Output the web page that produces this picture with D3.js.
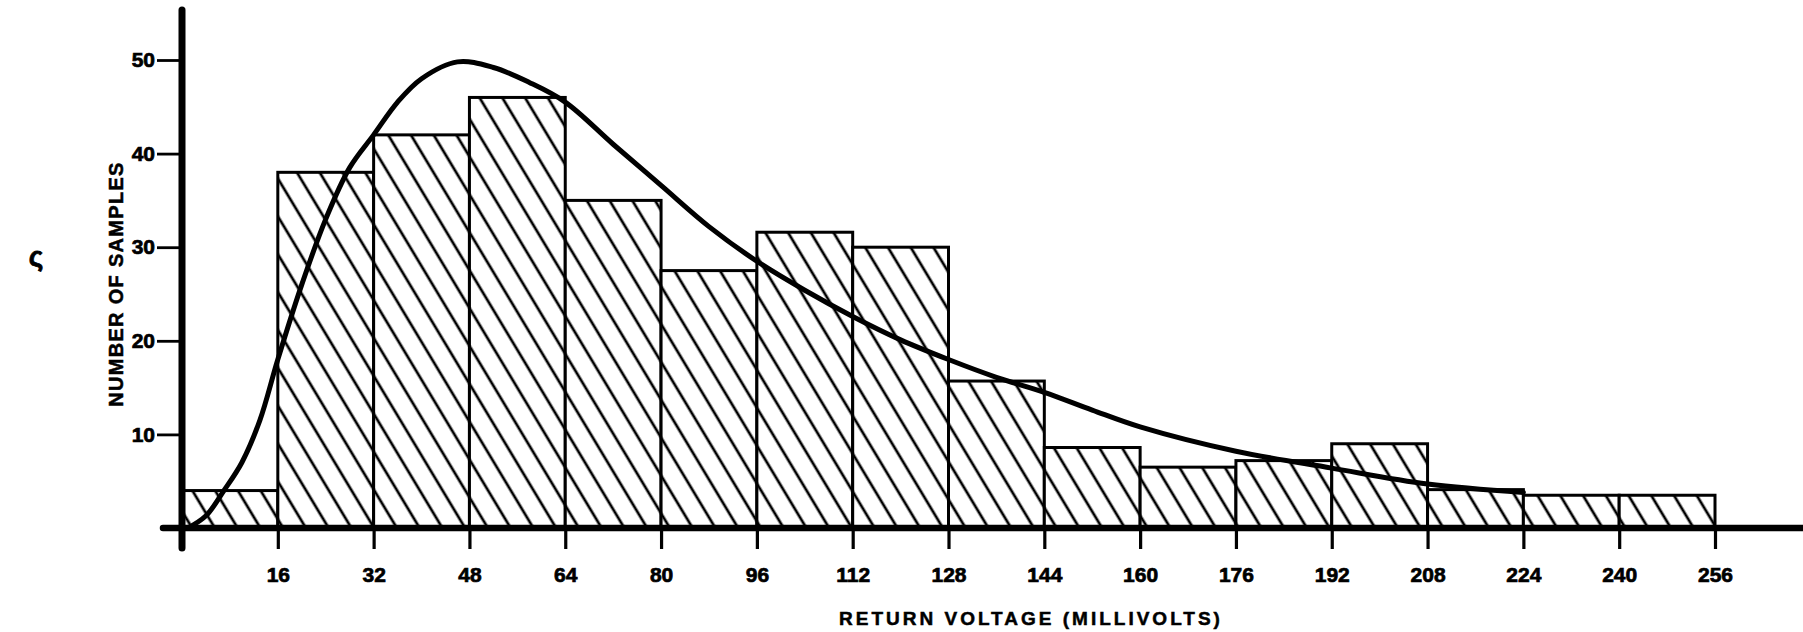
<!DOCTYPE html>
<html>
<head>
<meta charset="utf-8">
<script src="https://cdn.jsdelivr.net/npm/d3@7"></script>
<style>
  html, body { margin: 0; padding: 0; background: #fff; }
  svg { display: block; }
  text { font-family: "Liberation Sans", Arial, sans-serif; font-weight: bold; fill: #000; }
</style>
</head>
<body>
<svg id="chart" width="1803" height="632"></svg>
<script>
// Bin edges (millivolts) and counts per bin
const binStarts = [0, 16, 32, 48, 64, 80, 96, 112, 128, 144, 160, 176, 192, 208, 224, 240];
const binWidth = 16;
const counts = [4, 38, 42, 46, 35, 27.5, 31.6, 30, 15.7, 8.6, 6.5, 7.2, 9, 4.1, 3.5, 3.5];

// Fitted curve (millivolts, number of samples)
const curveX = [1, 4, 7, 10, 13, 16, 20, 24, 28, 32, 36, 40, 46, 52, 58, 64, 72, 80, 88, 96, 104, 112, 120, 128, 136, 144, 152, 160, 176, 192, 208, 224];
const curveY = [0, 1.3, 4, 7, 11.5, 18, 26, 33, 38.5, 42, 45.5, 48, 49.8, 49.2, 47.6, 45.5, 41, 36.6, 32.2, 28.5, 25.4, 22.6, 20.1, 18, 16.1, 14.5, 12.6, 10.8, 8.2, 6.4, 4.7, 3.8];

// Axis tick values
const xTicks = [16, 32, 48, 64, 80, 96, 112, 128, 144, 160, 176, 192, 208, 224, 240, 256];
const yTicks = [10, 20, 30, 40, 50];

const xTitle = "RETURN VOLTAGE (MILLIVOLTS)";
const yTitle = "NUMBER OF SAMPLES";

const svg = d3.select("#chart");

const x = d3.scaleLinear().domain([0, 256]).range([182, 1715]);
const y = d3.scaleLinear().domain([0, 50]).range([528, 60]);

// Hatch pattern
const defs = svg.append("defs");
const pat = defs.append("pattern")
  .attr("id", "hatch")
  .attr("patternUnits", "userSpaceOnUse")
  .attr("width", 19.5).attr("height", 19.5)
  .attr("patternTransform", "rotate(-31)");
pat.append("rect").attr("width", 19.5).attr("height", 19.5).attr("fill", "#fff");
pat.append("line").attr("x1", 9.75).attr("x2", 9.75).attr("y1", 0).attr("y2", 19.5)
  .attr("stroke", "#000").attr("stroke-width", 2.7);

const bins = binStarts.map((s, i) => ({ x0: s, x1: s + binWidth, v: counts[i] }));

// Bars
svg.append("g").selectAll("rect").data(bins).join("rect")
  .attr("x", d => x(d.x0))
  .attr("y", d => y(d.v))
  .attr("width", d => x(d.x1) - x(d.x0))
  .attr("height", d => y(0) - y(d.v))
  .attr("fill", "url(#hatch)")
  .attr("stroke", "#000")
  .attr("stroke-width", 3);

// Curve
const pts = curveX.map((cx, i) => [cx, curveY[i]]);
svg.append("path")
  .datum(pts)
  .attr("fill", "none")
  .attr("stroke", "#000")
  .attr("stroke-width", 5)
  .attr("stroke-linecap", "round")
  .attr("d", d3.line().x(d => x(d[0])).y(d => y(d[1])).curve(d3.curveCatmullRom.alpha(0.5)));

// X axis
const xAxis = svg.append("g").attr("transform", `translate(0,${y(0)})`)
  .call(d3.axisBottom(x).tickValues(xTicks).tickSize(21).tickPadding(18).tickFormat(d3.format("d")));
xAxis.select(".domain").remove();
xAxis.selectAll(".tick line").attr("stroke", "#000").attr("stroke-width", 3.2);
xAxis.selectAll(".tick text")
  .attr("font-size", 21).attr("font-family", "Liberation Sans, Arial, sans-serif").attr("font-weight", "bold")
  .attr("stroke", "#000").attr("stroke-width", 0.7);
xAxis.append("line").attr("x1", 163).attr("x2", 1803).attr("y1", 0).attr("y2", 0)
  .attr("stroke", "#000").attr("stroke-width", 6.5).attr("stroke-linecap", "round");

// Y axis
const yAxis = svg.append("g").attr("transform", `translate(${x(0)},0)`)
  .call(d3.axisLeft(y).tickValues(yTicks).tickSize(25).tickPadding(2).tickFormat(d3.format("d")));
yAxis.select(".domain").remove();
yAxis.selectAll(".tick line").attr("stroke", "#000").attr("stroke-width", 2.8);
yAxis.selectAll(".tick text")
  .attr("font-size", 21).attr("font-family", "Liberation Sans, Arial, sans-serif").attr("font-weight", "bold")
  .attr("stroke", "#000").attr("stroke-width", 0.7);
yAxis.append("line").attr("x1", 0).attr("x2", 0).attr("y1", 10).attr("y2", 548)
  .attr("stroke", "#000").attr("stroke-width", 7).attr("stroke-linecap", "round");

// Titles
svg.append("text")
  .attr("x", 1031).attr("y", 625)
  .attr("text-anchor", "middle")
  .attr("font-size", 19)
  .attr("letter-spacing", 3)
  .attr("stroke", "#000").attr("stroke-width", 0.5)
  .text(xTitle);

svg.append("text")
  .attr("transform", "translate(123,284) rotate(-90)")
  .attr("text-anchor", "middle")
  .attr("font-size", 20)
  .attr("letter-spacing", 1.3)
  .attr("stroke", "#000").attr("stroke-width", 0.5)
  .text(yTitle);

// Stray page mark
svg.append("text")
  .attr("x", 36).attr("y", 266)
  .attr("text-anchor", "middle")
  .attr("font-size", 28)
  .attr("stroke", "#000").attr("stroke-width", 0.8)
  .text("ς");
</script>
</body>
</html>
